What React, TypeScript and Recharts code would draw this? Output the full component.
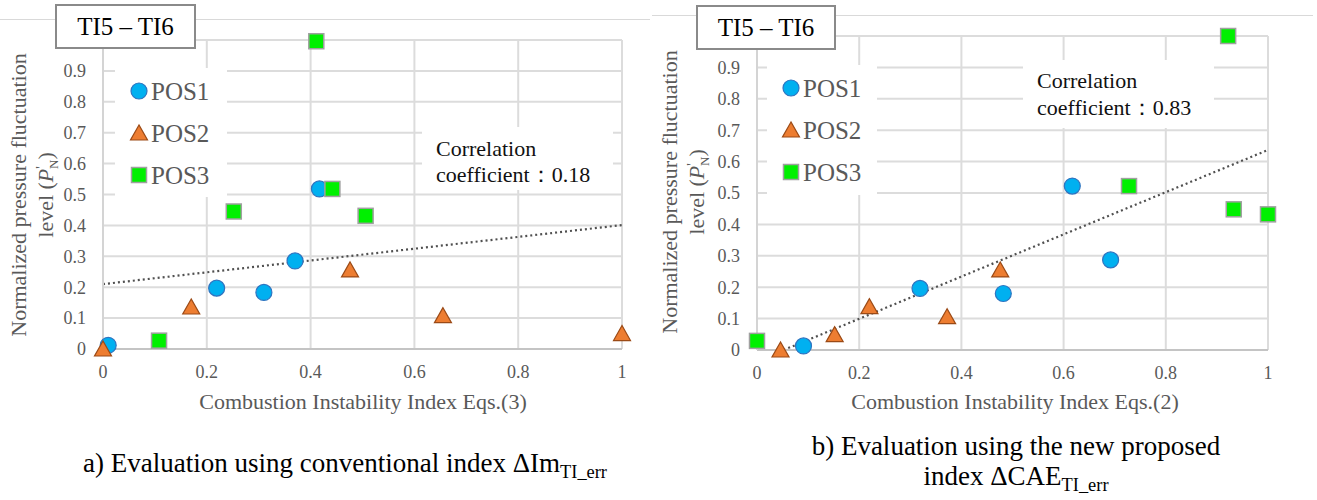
import React from "react";
import {
  ScatterChart,
  Scatter,
  XAxis,
  YAxis,
  CartesianGrid,
  ReferenceLine,
} from "recharts";

const xTicks = [0, 0.2, 0.4, 0.6, 0.8, 1];
const yTicks = [0, 0.1, 0.2, 0.3, 0.4, 0.5, 0.6, 0.7, 0.8, 0.9, 1];
const seriesNames = ["POS1", "POS2", "POS3"];

// a) conventional index, Eqs.(3)
const convPos1 = [
  { x: 0.01, y: 0.012 },
  { x: 0.219, y: 0.197 },
  { x: 0.31, y: 0.183 },
  { x: 0.37, y: 0.285 },
  { x: 0.417, y: 0.518 },
];
const convPos2 = [
  { x: 0.0, y: 0.0 },
  { x: 0.17, y: 0.136 },
  { x: 0.476, y: 0.256 },
  { x: 0.655, y: 0.108 },
  { x: 1.0, y: 0.05 },
];
const convPos3 = [
  { x: 0.108, y: 0.027 },
  { x: 0.252, y: 0.445 },
  { x: 0.411, y: 0.996 },
  { x: 0.442, y: 0.518 },
  { x: 0.506, y: 0.431 },
];
const convTrend = [
  { x: 0, y: 0.21 },
  { x: 1, y: 0.401 },
];

// b) new proposed index, Eqs.(2)
const newPos1 = [
  { x: 0.091, y: 0.013 },
  { x: 0.319, y: 0.196 },
  { x: 0.482, y: 0.18 },
  { x: 0.617, y: 0.522 },
  { x: 0.692, y: 0.287 },
];
const newPos2 = [
  { x: 0.046, y: 0.0 },
  { x: 0.152, y: 0.049 },
  { x: 0.22, y: 0.138 },
  { x: 0.372, y: 0.106 },
  { x: 0.476, y: 0.255 },
];
const newPos3 = [
  { x: 0.0, y: 0.029 },
  { x: 0.728, y: 0.522 },
  { x: 0.922, y: 1.0 },
  { x: 0.933, y: 0.448 },
  { x: 1.0, y: 0.432 },
];
const newTrend = [
  { x: 0.052, y: 0 },
  { x: 1, y: 0.637 },
];

const FONT = "'Liberation Serif', 'DejaVu Serif', 'Noto Serif', 'Times New Roman', serif";
const GRAY = "#595959";

const CircleMark = (p: any) => (
  <circle cx={p.cx} cy={p.cy} r={8} fill="#00B0F0" stroke="#2F74C0" strokeWidth={1.2} />
);
const TriangleMark = (p: any) => (
  <polygon
    points={`${p.cx},${p.cy - 8} ${p.cx - 8.5},${p.cy + 7} ${p.cx + 8.5},${p.cy + 7}`}
    fill="#ED7D31"
    stroke="#9B4A16"
    strokeWidth={1.2}
  />
);
const SquareMark = (p: any) => (
  <rect
    x={p.cx - 7.5}
    y={p.cy - 7.5}
    width={15}
    height={15}
    fill="#00F000"
    stroke="#A0A0A0"
    strokeWidth={1.5}
  />
);
const marks = [CircleMark, TriangleMark, SquareMark];

// the top "1" label sits behind the title box in the original
const yTickFmt = (v: number) => (v === 1 ? "" : String(v));

type Box = { x: number; y: number; w: number; h: number };

type PanelProps = {
  left: number;
  width: number;
  margin: { top: number; right: number; bottom: number; left: number };
  series: { x: number; y: number }[][];
  trend: { x: number; y: number }[];
  titleBox: Box;
  topLine: { x: number; y: number; w: number };
  legendBox: Box;
  corrBox: Box;
  corrPad: number;
  corrLine: number;
  corrValue: string;
  yLabel: { cx: number; cy: number };
  xLabel: { text: string; cx: number; cy: number };
};

const Panel = (props: PanelProps) => {
  const { left, width, margin, series, trend } = props;
  return (
    <>
      <div
        style={{
          position: "absolute",
          left: props.topLine.x,
          top: props.topLine.y,
          width: props.topLine.w,
          height: 1,
          background: "#d9d9d9",
        }}
      />
      <div style={{ position: "absolute", left, top: 0 }}>
        <ScatterChart width={width} height={420} margin={margin}>
          <CartesianGrid stroke="#dcdcdc" strokeWidth={2} />
          <XAxis
            type="number"
            dataKey="x"
            domain={[0, 1]}
            ticks={xTicks}
            height={30}
            tickSize={0}
            tickMargin={16}
            tickLine={false}
            axisLine={{ stroke: "#c4c4c4", strokeWidth: 2 }}
            tick={{ fill: GRAY, fontSize: 18, fontFamily: FONT }}
          />
          <YAxis
            type="number"
            dataKey="y"
            domain={[0, 1]}
            ticks={yTicks}
            tickFormatter={yTickFmt}
            width={40}
            tickSize={0}
            tickMargin={17}
            tickLine={false}
            axisLine={{ stroke: "#d4d4d4", strokeWidth: 2 }}
            tick={{ fill: GRAY, fontSize: 18, fontFamily: FONT }}
          />
          {series.map((d, i) => (
            <Scatter
              key={seriesNames[i]}
              name={seriesNames[i]}
              data={d}
              shape={marks[i]}
              isAnimationActive={false}
            />
          ))}
          <ReferenceLine
            segment={trend}
            stroke="#505050"
            strokeWidth={2.2}
            strokeDasharray="2 3"
          />
        </ScatterChart>
      </div>

      {/* legend */}
      <div
        style={{
          position: "absolute",
          left: props.legendBox.x,
          top: props.legendBox.y,
          width: props.legendBox.w,
          height: props.legendBox.h,
          background: "#fff",
        }}
      >
        <svg width={props.legendBox.w} height={props.legendBox.h}>
          {seriesNames.map((name, i) => {
            const Mark = marks[i];
            const cy = 23 + i * 42;
            return (
              <g key={name}>
                <Mark cx={24} cy={cy} />
                <text x={36} y={cy + 8.5} fill={GRAY} fontSize={25} fontFamily={FONT}>
                  {name}
                </text>
              </g>
            );
          })}
        </svg>
      </div>

      {/* correlation note */}
      <div
        style={{
          position: "absolute",
          left: props.corrBox.x,
          top: props.corrBox.y,
          width: props.corrBox.w,
          height: props.corrBox.h,
          background: "#fff",
          boxSizing: "border-box",
          paddingLeft: 14,
          paddingTop: props.corrPad,
          fontFamily: FONT,
          fontSize: 22,
          lineHeight: `${props.corrLine}px`,
          color: "#111",
          whiteSpace: "nowrap",
        }}
      >
        <div>Correlation</div>
        <div>coefficient：{props.corrValue}</div>
      </div>

      {/* title */}
      <div
        style={{
          position: "absolute",
          left: props.titleBox.x,
          top: props.titleBox.y,
          width: props.titleBox.w,
          height: props.titleBox.h,
          boxSizing: "border-box",
          border: "2px solid #8a8a8a",
          background: "#fff",
          fontFamily: FONT,
          fontSize: 25,
          lineHeight: `${props.titleBox.h - 4}px`,
          textAlign: "center",
          color: "#000",
        }}
      >
        TI5 – TI6
      </div>

      {/* y axis title */}
      <div
        style={{
          position: "absolute",
          left: props.yLabel.cx - 170,
          top: props.yLabel.cy - 27,
          width: 340,
          height: 54,
          transform: "rotate(-90deg)",
          textAlign: "center",
          fontFamily: FONT,
          fontSize: 22,
          lineHeight: "27px",
          color: GRAY,
          whiteSpace: "nowrap",
        }}
      >
        <div>Normalized pressure fluctuation</div>
        <div>
          level (<i>P</i>
          <span style={{ fontSize: 15, position: "relative", top: -7 }}>'</span>
          <span style={{ fontSize: 13, position: "relative", top: 5, marginLeft: -3 }}>N</span>)
        </div>
      </div>

      {/* x axis title */}
      <div
        style={{
          position: "absolute",
          left: props.xLabel.cx - 250,
          top: props.xLabel.cy - 13,
          width: 500,
          textAlign: "center",
          fontFamily: FONT,
          fontSize: 22,
          lineHeight: "26px",
          color: GRAY,
        }}
      >
        {props.xLabel.text}
      </div>
    </>
  );
};

const Sub = ({ children }: { children: React.ReactNode }) => (
  <span style={{ fontSize: "0.68em", verticalAlign: "-0.3em", lineHeight: 0 }}>{children}</span>
);

export default function App() {
  return (
    <div
      style={{
        position: "absolute",
        left: 0,
        top: 0,
        width: 1317,
        height: 500,
        background: "#fff",
        overflow: "hidden",
        fontFamily: FONT,
      }}
    >
      <Panel
        left={0}
        width={650}
        margin={{ top: 40, right: 28, bottom: 41, left: 63 }}
        series={[convPos1, convPos2, convPos3]}
        trend={convTrend}
        titleBox={{ x: 55, y: 4, w: 141, h: 45 }}
        topLine={{ x: 0, y: 19, w: 650 }}
        legendBox={{ x: 115, y: 68, w: 112, h: 129 }}
        corrBox={{ x: 422, y: 127, w: 191, h: 63 }}
        corrPad={9}
        corrLine={26}
        corrValue="0.18"
        yLabel={{ cx: 32, cy: 195 }}
        xLabel={{ text: "Combustion Instability Index Eqs.(3)", cx: 363, cy: 402 }}
      />
      <Panel
        left={650}
        width={667}
        margin={{ top: 36, right: 49, bottom: 40, left: 67 }}
        series={[newPos1, newPos2, newPos3]}
        trend={newTrend}
        titleBox={{ x: 696, y: 5, w: 140, h: 45 }}
        topLine={{ x: 652, y: 15, w: 661 }}
        legendBox={{ x: 767, y: 65, w: 110, h: 130 }}
        corrBox={{ x: 1023, y: 60, w: 191, h: 68 }}
        corrPad={7}
        corrLine={27}
        corrValue="0.83"
        yLabel={{ cx: 683, cy: 192 }}
        xLabel={{ text: "Combustion Instability Index Eqs.(2)", cx: 1015, cy: 402 }}
      />

      {/* captions */}
      <div
        style={{
          position: "absolute",
          left: 45,
          top: 448,
          width: 600,
          textAlign: "center",
          fontSize: 27,
          lineHeight: "30px",
          color: "#000",
          whiteSpace: "nowrap",
        }}
      >
        a) Evaluation using conventional index ΔIm<Sub>TI_err</Sub>
      </div>
      <div
        style={{
          position: "absolute",
          left: 716,
          top: 431,
          width: 600,
          textAlign: "center",
          fontSize: 27,
          lineHeight: "30px",
          color: "#000",
          whiteSpace: "nowrap",
        }}
      >
        <div>b) Evaluation using the new proposed</div>
        <div>
          index ΔCAE<Sub>TI_err</Sub>
        </div>
      </div>
    </div>
  );
}
